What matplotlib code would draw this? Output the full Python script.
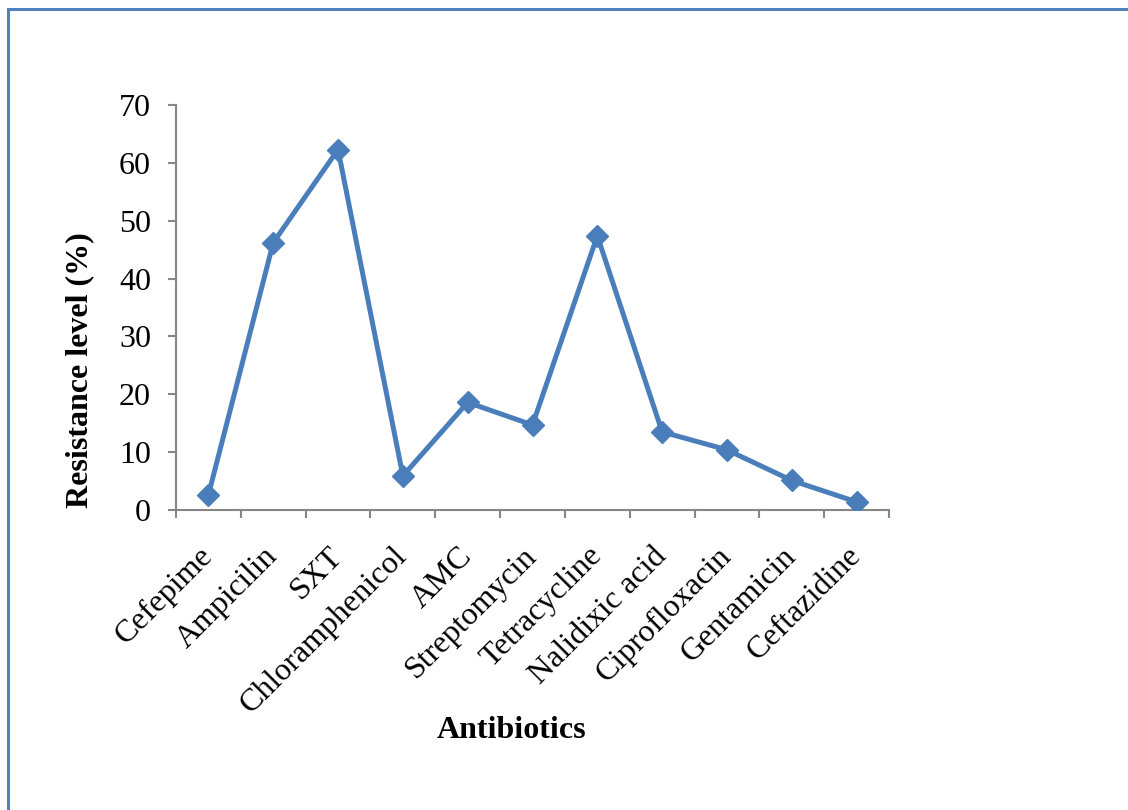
import numpy as np
import matplotlib
matplotlib.use("Agg")
import matplotlib.pyplot as plt
from matplotlib.patches import Rectangle

# data
antibiotics = ["Cefepime", "Ampicilin", "SXT", "Chloramphenicol", "AMC",
               "Streptomycin", "Tetracycline", "Nalidixic acid",
               "Ciprofloxacin", "Gentamicin", "Ceftazidine"]
resistance = [2.6, 46.2, 62.3, 5.9, 18.6, 14.7, 47.4, 13.5, 10.4, 5.1, 1.4]
y_ticks = [0, 10, 20, 30, 40, 50, 60, 70]

BLUE = "#4A7EBB"
AXIS_GRAY = "#868686"

plt.rcParams.update({
    "font.family": ["Liberation Serif", "DejaVu Serif"],
    "font.size": 23,
})

fig = plt.figure(figsize=(11.28, 8.10), dpi=100)
ax = fig.add_axes([176 / 1128, 1 - 510 / 810, (889 - 176) / 1128, (510 - 105) / 810])

x = np.arange(len(antibiotics))
ax.plot(x, resistance, color=BLUE, lw=3.6, marker="D", markersize=11,
        markerfacecolor=BLUE, markeredgecolor=BLUE, zorder=3)

ax.set_xlim(-0.5, len(antibiotics) - 0.5)
ax.set_ylim(0, 70)
ax.set_yticks(y_ticks)
ax.set_yticklabels([str(v) for v in y_ticks])
ax.tick_params(axis="y", length=6, width=1.5, color=AXIS_GRAY, pad=12)

# category labels centred, tick marks between categories
ax.set_xticks(x)
ax.set_xticklabels(antibiotics, rotation=45, ha="right", va="center",
                   rotation_mode="anchor")
ax.tick_params(axis="x", which="major", length=0, pad=30)
ax.set_xticks(np.arange(-0.5, len(antibiotics), 1.0), minor=True)
ax.tick_params(axis="x", which="minor", length=6, width=1.5, color=AXIS_GRAY)

for side in ["top", "right"]:
    ax.spines[side].set_visible(False)
for side in ["left", "bottom"]:
    ax.spines[side].set_color(AXIS_GRAY)
    ax.spines[side].set_linewidth(1.5)

fig.text(80 / 1128, 1 - 370 / 810, "Resistance level (%)", fontweight="bold",
         rotation=90, ha="center", va="center")
fig.text(512 / 1128, 1 - 730 / 810, "Antibiotics", fontweight="bold",
         ha="center", va="center")

# chart frame
fig.patches.append(Rectangle((8 / 1128, -0.1), 1.2, 1 - 9 / 810 + 0.1,
                             transform=fig.transFigure, fill=False,
                             edgecolor="#4F81BD", lw=2.2))

fig.savefig("out.png", dpi=100)
